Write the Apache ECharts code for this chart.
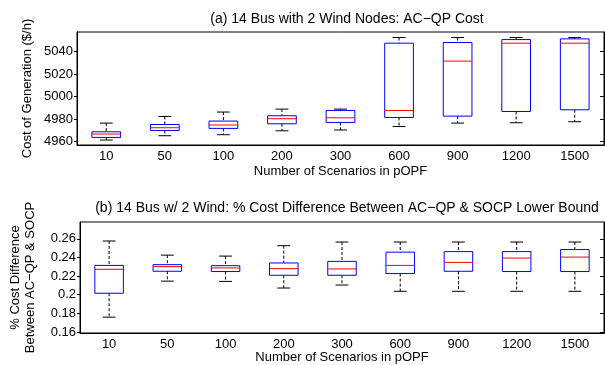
<!DOCTYPE html>
<html>
<head>
<meta charset="utf-8">
<script src="https://cdn.jsdelivr.net/npm/echarts@6/dist/echarts.min.js"></script>
<style>
html,body{margin:0;padding:0;background:#fff;}
#c{width:605px;height:365px;}
</style>
</head>
<body>
<div id="c"></div>
<script>
// Categories
const scenarios = ['10','50','100','200','300','600','900','1200','1500'];

// (a) AC-QP cost ($/h)
const costMin = [4961.5, 4965.3, 4966.2, 4969.7, 4970.4, 4973.5, 4976.5, 4976.8, 4977.7];
const costQ1  = [4963.8, 4970.0, 4971.8, 4975.9, 4977.1, 4981.5, 4982.7, 4986.8, 4988.3];
const costMed = [4966.8, 4972.4, 4974.8, 4980.4, 4981.2, 4987.7, 5031.4, 5047.3, 5047.3];
const costQ3  = [4968.8, 4975.3, 4978.3, 4983.0, 4987.7, 5047.3, 5047.9, 5050.5, 5051.1];
const costMax = [4976.5, 4982.4, 4986.3, 4988.9, 4988.9, 5052.3, 5052.3, 5052.3, 5052.3];
const costTicks = [4960, 4980, 5000, 5020, 5040];

// (b) % cost difference AC-QP vs SOCP lower bound
const diffMin = [0.1759, 0.2146, 0.2143, 0.2072, 0.2104, 0.2037, 0.2037, 0.2037, 0.2037];
const diffQ1  = [0.2016, 0.2252, 0.2249, 0.2209, 0.2209, 0.2227, 0.2252, 0.2249, 0.2249];
const diffMed = [0.2273, 0.2302, 0.2288, 0.2280, 0.2277, 0.2315, 0.2347, 0.2394, 0.2404];
const diffQ3  = [0.2315, 0.2323, 0.2312, 0.2341, 0.2358, 0.2457, 0.2463, 0.2463, 0.2485];
const diffMax = [0.2577, 0.2425, 0.2415, 0.2527, 0.2566, 0.2566, 0.2566, 0.2566, 0.2566];
const diffTicks = [0.16, 0.18, 0.2, 0.22, 0.24, 0.26];

const FONT = '"Liberation Sans", Arial, Helvetica, sans-serif';

function build(mins, q1s, meds, q3s, maxs) {
  return scenarios.map((c, i) => [i, mins[i], q1s[i], meds[i], q3s[i], maxs[i]]);
}

function renderItem(params, api) {
  const x = api.value(0);
  const lo = api.coord([x, api.value(1)]);
  const q1 = api.coord([x, api.value(2)]);
  const md = api.coord([x, api.value(3)]);
  const q3 = api.coord([x, api.value(4)]);
  const hi = api.coord([x, api.value(5)]);
  const band = api.size([1, 0])[0];
  const bw = band * 0.49, cw = band * 0.22;
  const cx = lo[0];
  const dash = {stroke: '#000', lineWidth: 1, lineDash: [3, 2], fill: null};
  const solid = {stroke: '#000', lineWidth: 1, fill: null};
  return {
    type: 'group',
    children: [
      {type: 'line', shape: {x1: cx, y1: hi[1], x2: cx, y2: q3[1]}, style: dash},
      {type: 'line', shape: {x1: cx, y1: q1[1], x2: cx, y2: lo[1]}, style: dash},
      {type: 'line', shape: {x1: cx - cw / 2, y1: hi[1], x2: cx + cw / 2, y2: hi[1]}, style: solid},
      {type: 'line', shape: {x1: cx - cw / 2, y1: lo[1], x2: cx + cw / 2, y2: lo[1]}, style: solid},
      {type: 'rect', shape: {x: cx - bw / 2, y: q3[1], width: bw, height: q1[1] - q3[1]},
        style: {stroke: '#0000ff', lineWidth: 1, fill: null}},
      {type: 'line', shape: {x1: cx - bw / 2, y1: md[1], x2: cx + bw / 2, y2: md[1]},
        style: {stroke: '#ff0000', lineWidth: 1}}
    ]
  };
}

function xAxisOpt(gridIndex, gap) {
  return {
    type: 'category', gridIndex, data: scenarios, boundaryGap: true,
    axisLine: {lineStyle: {color: '#000', width: 1}},
    axisTick: {show: false},
    axisLabel: {color: '#000', fontSize: 13, fontFamily: FONT, margin: 5, interval: 0},
    name: 'Number of Scenarios in pOPF', nameLocation: 'middle', nameGap: gap,
    nameMoveOverlap: false,
    nameTextStyle: {color: '#000', fontSize: 13, fontFamily: FONT}
  };
}

function yAxisOpt(gridIndex, min, max, ticks, name, gap, lh) {
  return {
    type: 'value', gridIndex, min, max, position: 'left',
    axisLine: {show: true, lineStyle: {color: '#000', width: 1}},
    axisTick: {show: true, inside: false, length: 3, customValues: ticks, lineStyle: {color: '#000'}},
    axisLabel: {color: '#000', fontSize: 13, fontFamily: FONT, margin: 4, customValues: ticks,
      formatter: v => String(v)},
    splitLine: {show: false},
    name, nameLocation: 'middle', nameGap: gap, nameMoveOverlap: false,
    nameTextStyle: {color: '#000', fontSize: 13, fontFamily: FONT, lineHeight: lh}
  };
}

function yRightOpt(gridIndex, min, max, ticks) {
  return {
    type: 'value', gridIndex, min, max, position: 'right',
    axisLine: {show: true, lineStyle: {color: '#000', width: 1}},
    axisTick: {show: true, inside: true, length: 4, customValues: ticks, lineStyle: {color: '#000'}},
    axisLabel: {show: false},
    splitLine: {show: false}
  };
}

const chart = echarts.init(document.getElementById('c'), null, {renderer: 'canvas'});
chart.setOption({
  animation: false,
  backgroundColor: '#fff',
  title: [
    {text: '(a) 14 Bus with 2 Wind Nodes: AC\u2212QP Cost', left: 342, top: 7, textAlign: 'center',
      textStyle: {fontSize: 14, fontWeight: 'normal', color: '#000', fontFamily: FONT}},
    {text: '(b) 14 Bus w/ 2 Wind: % Cost Difference Between AC\u2212QP & SOCP Lower Bound', left: 342, top: 196, textAlign: 'center',
      textStyle: {fontSize: 14, fontWeight: 'normal', color: '#000', fontFamily: FONT}}
  ],
  grid: [
    {left: 77, right: 1, top: 32, height: 113, show: true, borderColor: '#000', borderWidth: 1},
    {left: 78, right: 1, top: 222, height: 112, show: true, borderColor: '#000', borderWidth: 1}
  ],
  xAxis: [xAxisOpt(0, 20), xAxisOpt(1, 18)],
  yAxis: [
    yAxisOpt(0, 4957.1, 5057.2, costTicks, 'Cost of Generation ($/h)', 42, 15),
    yRightOpt(0, 4957.1, 5057.2, costTicks),
    yAxisOpt(1, 0.1589, 0.2781, diffTicks, '% Cost Difference\nBetween AC\u2212QP & SOCP', 42, 15),
    yRightOpt(1, 0.1589, 0.2781, diffTicks)
  ],
  series: [
    {type: 'custom', xAxisIndex: 0, yAxisIndex: 0, renderItem,
      encode: {x: 0, y: [1, 2, 3, 4, 5]},
      data: build(costMin, costQ1, costMed, costQ3, costMax)},
    {type: 'custom', xAxisIndex: 1, yAxisIndex: 2, renderItem,
      encode: {x: 0, y: [1, 2, 3, 4, 5]},
      data: build(diffMin, diffQ1, diffMed, diffQ3, diffMax)}
  ]
});
</script>
</body>
</html>
